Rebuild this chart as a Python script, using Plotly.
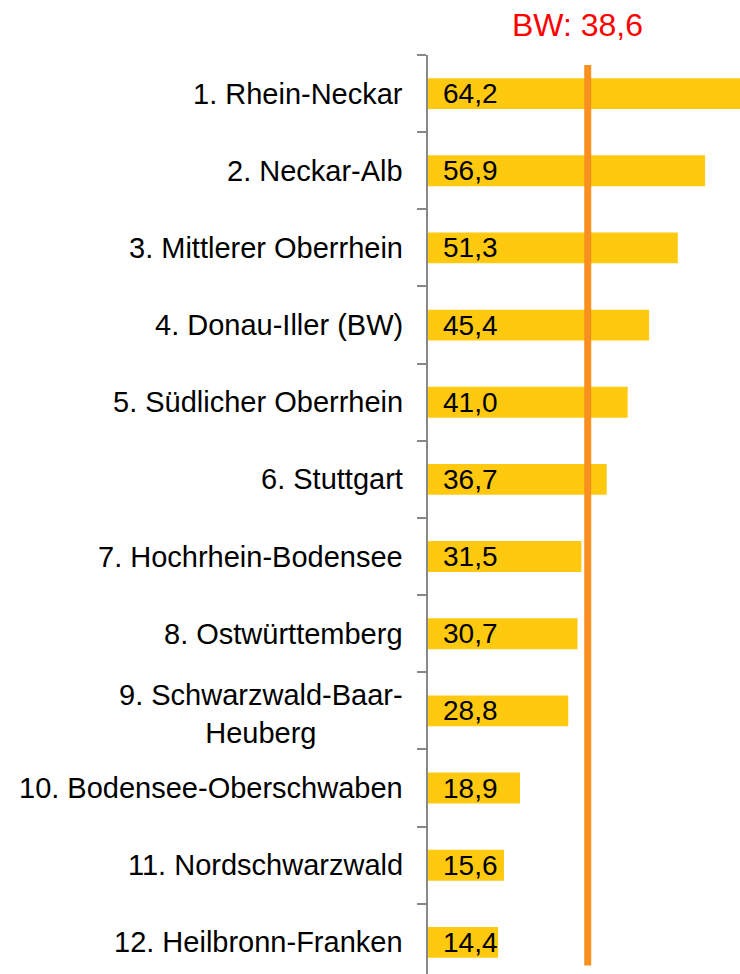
import plotly.graph_objects as go

# Data
regions = [
    "1. Rhein-Neckar",
    "2. Neckar-Alb",
    "3. Mittlerer Oberrhein",
    "4. Donau-Iller (BW)",
    "5. Südlicher Oberrhein",
    "6. Stuttgart",
    "7. Hochrhein-Bodensee",
    "8. Ostwürttemberg",
    "9. Schwarzwald-Baar-<br>Heuberg",
    "10. Bodensee-Oberschwaben",
    "11. Nordschwarzwald",
    "12. Heilbronn-Franken",
]
values = [64.2, 56.9, 51.3, 45.4, 41.0, 36.7, 31.5, 30.7, 28.8, 18.9, 15.6, 14.4]

bw_label = "BW: 38,6"
# the reference line sits at ~32.8 on the bar scale (not at 38.6)
bw_line_x = 32.8

BAR_COLOR = '#FFC910'
LINE_COLOR = '#F7901E'
AXIS_COLOR = '#888888'
FONT = 'Liberation Sans, Arial, sans-serif'


def de(v):
    return f"{v:.1f}".replace('.', ',')


fig = go.Figure()

fig.add_trace(go.Bar(
    x=values, y=regions,
    orientation='h',
    marker=dict(color=BAR_COLOR, line=dict(width=0)),
    hoverinfo='skip',
    showlegend=False
))

# value labels at the start of each bar
for reg, v in zip(regions, values):
    fig.add_annotation(
        x=0, y=reg, xref='x', yref='y',
        text=de(v), showarrow=False,
        xanchor='left', xshift=13,
        font=dict(size=28, color='black', family=FONT)
    )

# category labels (annotations so the two-line label can be centred)
for reg in regions:
    fig.add_annotation(
        x=0, y=reg, xref='paper', yref='y',
        text=reg, showarrow=False,
        xanchor='right', xshift=-23, align='center',
        yshift=-3 if '<br>' in reg else 0,
        font=dict(size=29, color='black', family=FONT)
    )

# BW average line
fig.add_shape(
    type='line', xref='x', yref='y',
    x0=bw_line_x, x1=bw_line_x, y0=-0.37, y1=11.3,
    line=dict(color=LINE_COLOR, width=7)
)
fig.add_annotation(
    x=bw_line_x, y=1, xref='x', yref='paper',
    text=bw_label, showarrow=False,
    xanchor='center', yanchor='middle', xshift=-10, yshift=30,
    font=dict(size=32, color='#FF0000', family=FONT)
)

fig.update_layout(
    width=740, height=974,
    margin=dict(l=428, r=0, t=55, b=0),
    plot_bgcolor='white',
    paper_bgcolor='white',
    bargap=0.6,
    font=dict(family=FONT),
    xaxis=dict(
        range=[0, 64.07],
        showgrid=False, zeroline=False,
        showticklabels=False, showline=False, ticks=''
    ),
    yaxis=dict(
        type='category',
        range=[11.41, -0.5],
        showgrid=False, zeroline=False,
        showline=True, linecolor=AXIS_COLOR, linewidth=2,
        ticks='outside', tickson='boundaries',
        ticklen=9, tickwidth=2, tickcolor=AXIS_COLOR,
        showticklabels=False
    )
)

# drop the default page margin so the figure fills the window exactly
fig.write_html(
    "out.html",
    config=dict(displayModeBar=False),
    post_script="document.body.style.margin='0';document.body.style.overflow='hidden';"
)
